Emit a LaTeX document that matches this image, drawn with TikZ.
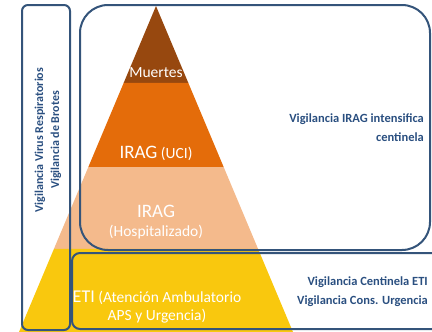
\documentclass[tikz,border=0pt]{standalone}
\usepackage{fontspec}
\setmainfont{Carlito}
\usetikzlibrary{calc, positioning}

\definecolor{muertes}{HTML}{97480F}
\definecolor{uci}{HTML}{E46C0A}
\definecolor{hosp}{HTML}{F4BA8C}
\definecolor{eti}{HTML}{F9C80E}
\definecolor{boxline}{HTML}{34547A}
\definecolor{textblue}{HTML}{2A4F80}

\begin{document}
\begin{tikzpicture}[
        x = 1pt, y = -1pt,
        every node/.style = {inner sep = 0pt},
        band text/.style = {text = white, font = \fontsize{15.5}{18}\selectfont, align = center},
        scope box/.style = {draw = boxline, line width = 2pt},
        scope text/.style = {text = textblue, font = \bfseries\fontsize{12.5}{19}\selectfont, align = right, anchor = east}
    ]
      \useasboundingbox (0,0) rectangle (432,332);

      % pyramid
      \coordinate (apex) at (156,6);
      \coordinate (baseL) at (19,332);
      \coordinate (baseR) at (293,332);
      \coordinate (l1) at ($(apex)!0.236!(baseL)$);
      \coordinate (r1) at ($(apex)!0.236!(baseR)$);
      \coordinate (l2) at ($(apex)!0.494!(baseL)$);
      \coordinate (r2) at ($(apex)!0.494!(baseR)$);
      \coordinate (l3) at ($(apex)!0.745!(baseL)$);
      \coordinate (r3) at ($(apex)!0.745!(baseR)$);

      \fill[muertes] (apex) -- (r1) -- (l1) -- cycle;
      \fill[uci] (l1) -- (r1) -- (r2) -- (l2) -- cycle;
      \fill[hosp] (l2) -- (r2) -- (r3) -- (l3) -- cycle;
      \fill[eti] (l3) -- (r3) -- (baseR) -- (baseL) -- cycle;

      \node[band text] (muertesText) at (156,73) {Muertes};
      \node[band text] (uciText) at (156,153) {{\fontsize{19}{21}\selectfont IRAG} (UCI)};
      \node[band text] (hospText) at (156,222) {{\fontsize{19}{21}\selectfont IRAG}\\[1pt](Hospitalizado)};
      \node[band text] (etiText) at (157,307) {{\fontsize{18}{20}\selectfont ETI} (Atención Ambulatorio\\APS y Urgencia)};

      % scopes
      \draw[scope box, rounded corners = 6pt] (22,5) rectangle (70,330);
      \draw[scope box, rounded corners = 28pt] (80,5) rectangle (430,250);
      \draw[scope box, rounded corners = 8pt] (72,253) rectangle (440,329);

      \node[text = textblue, font = \bfseries\fontsize{12}{16}\selectfont, align = center, rotate = 90] (brotes) at (48,140)
        {Vigilancia Virus Respiratorios\\Vigilancia de Brotes};
      \node[scope text] (iragText) at (424,128) {Vigilancia IRAG intensifica\\centinela};
      \node[scope text] (etiScope) at (428,292) {Vigilancia Centinela ETI\\Vigilancia Cons. Urgencia};
    \end{tikzpicture}
\end{document}
